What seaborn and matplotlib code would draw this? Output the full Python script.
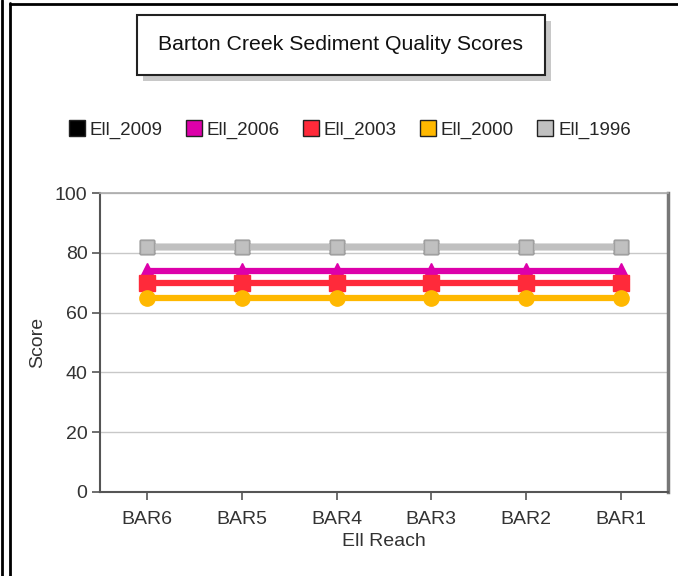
import pandas as pd
import seaborn as sns
import matplotlib.pyplot as plt
from matplotlib.patches import Rectangle
from matplotlib.lines import Line2D

# Datos
tramos = ["BAR6", "BAR5", "BAR4", "BAR3", "BAR2", "BAR1"]
series = ["Ell_2009", "Ell_2006", "Ell_2003", "Ell_2000", "Ell_1996"]
ell_2009 = [82, 82, 82, 82, 82, 82]
ell_2006 = [74, 74, 74, 74, 74, 74]
ell_2003 = [70, 70, 70, 70, 70, 70]
ell_2000 = [65, 65, 65, 65, 65, 65]
ell_1996 = [82, 82, 82, 82, 82, 82]

colores = {"Ell_2009": "#000000", "Ell_2006": "#DD00AA", "Ell_2003": "#FF2A3A",
           "Ell_2000": "#FFB800", "Ell_1996": "#C0C0C0"}
bordes = {"Ell_2009": "#000000", "Ell_2006": "#DD00AA", "Ell_2003": "#FF2A3A",
          "Ell_2000": "#FFB800", "Ell_1996": "#A0A0A0"}
marcadores = {"Ell_2009": "s", "Ell_2006": "^", "Ell_2003": "s",
              "Ell_2000": "o", "Ell_1996": "s"}
tamanos = {"Ell_2009": 10.5, "Ell_2006": 11.5, "Ell_2003": 11, "Ell_2000": 11, "Ell_1996": 10}

valores = [ell_2009, ell_2006, ell_2003, ell_2000, ell_1996]
df = pd.concat([pd.DataFrame({"Ell Reach": tramos, "Score": v, "Serie": s})
                for s, v in zip(series, valores)], ignore_index=True)

sns.set_style("white")
plt.rcParams["font.family"] = ["Liberation Sans", "DejaVu Sans"]

fig = plt.figure(figsize=(6.78, 5.76), dpi=100)
ax = fig.add_axes([100 / 678, 1 - 492 / 576, 568 / 678, 299 / 576])

for s in series:
    sub = df[df["Serie"] == s]
    sns.lineplot(data=sub, x="Ell Reach", y="Score", ax=ax, color=colores[s],
                 marker=marcadores[s], markersize=tamanos[s], linewidth=4.5,
                 markeredgecolor=bordes[s], markeredgewidth=1, sort=False, legend=False)

ax.set_xlim(-0.5, 5.5)
ax.set_ylim(0, 100)
ax.set_yticks([0, 20, 40, 60, 80, 100])
ax.yaxis.grid(True, color="#C8C8C8", linewidth=1)
ax.set_axisbelow(True)
for lado in ["left", "bottom"]:
    ax.spines[lado].set_color("#555555")
    ax.spines[lado].set_linewidth(1.5)
ax.spines["right"].set_color("#777777")
ax.spines["right"].set_linewidth(2.5)
ax.spines["top"].set_color("#AAAAAA")
ax.spines["top"].set_linewidth(1.2)
ax.tick_params(axis="both", colors="#555555", labelcolor="#333333", labelsize=14,
               length=6, width=1.2, left=True, bottom=True)
ax.tick_params(axis="x", pad=8)
ax.tick_params(axis="y", pad=3)
ax.set_xlabel("Ell Reach", fontsize=14, color="#333333", labelpad=3)
ax.set_ylabel("Score", fontsize=14, color="#333333", labelpad=6)

# Leyenda
manejadores = [Line2D([], [], linestyle="none", marker="s", markersize=12,
                      markerfacecolor=colores[s], markeredgecolor="#222222")
               for s in series]
fig.legend(manejadores, series, loc="center", bbox_to_anchor=(350 / 678, 1 - 130 / 576),
           ncol=5, frameon=False, fontsize=13.5, handlelength=0.8, handletextpad=0.3,
           columnspacing=1.25)

# Caja del título con sombra
x0, y0, w, h = 137 / 678, 1 - 75 / 576, 408 / 678, 60 / 576
fig.patches.append(Rectangle((x0 + 6 / 678, y0 - 6 / 576), w, h, transform=fig.transFigure,
                             facecolor="#C8C8C8", edgecolor="none", zorder=1))
fig.patches.append(Rectangle((x0, y0), w, h, transform=fig.transFigure,
                             facecolor="white", edgecolor="#222222", linewidth=1.5, zorder=2))
fig.text(x0 + w / 2, y0 + h / 2, "Barton Creek Sediment Quality Scores",
         ha="center", va="center", fontsize=15.3, color="#111111", zorder=3)

# Marco exterior
fig.add_artist(Line2D([1.5 / 678, 1.5 / 678], [0, 1], color="black", linewidth=2))
fig.add_artist(Line2D([9.5 / 678, 9.5 / 678], [0, 1 - 3 / 576], color="black", linewidth=2))
fig.add_artist(Line2D([9.5 / 678, 1], [1 - 3.5 / 576, 1 - 3.5 / 576], color="black", linewidth=2))

fig.savefig("out.png", dpi=100)
